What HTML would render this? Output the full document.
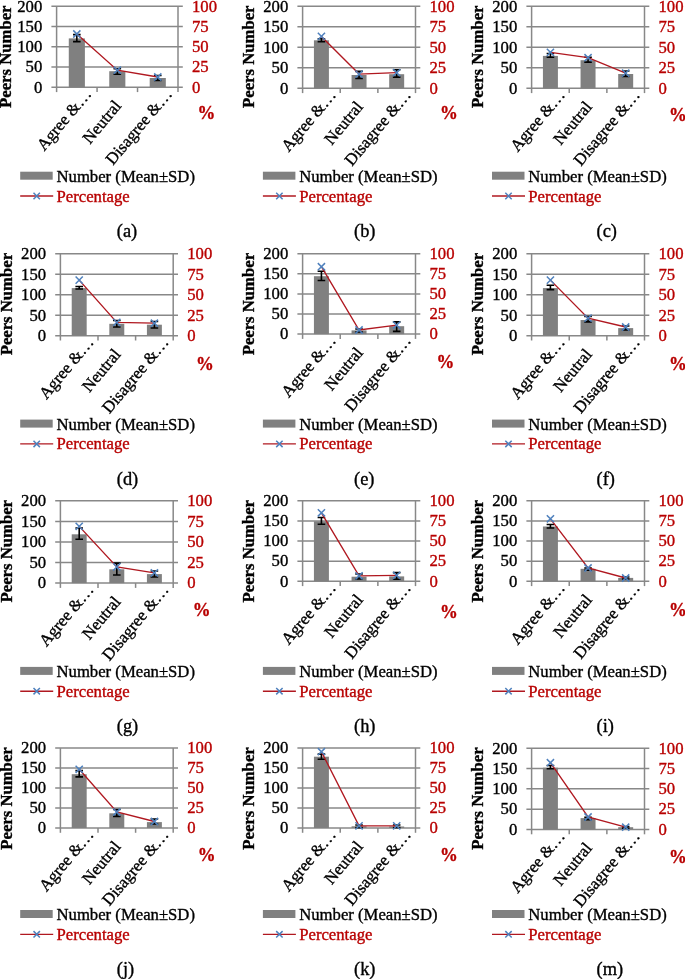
<!DOCTYPE html>
<html><head><meta charset="utf-8"><style>
html,body{margin:0;padding:0;background:#fff;}
svg{display:block;will-change:transform;}
text{font-family:"Liberation Serif",serif;font-size:16.7px;fill:#000;stroke:#000;stroke-width:0.35;}
text.r{fill:#B80000;stroke:#B80000;}
text.b{font-weight:bold;}
text.pc{font-size:17.8px;}
text.cap{font-size:18.4px;}
.gl{stroke:#888888;stroke-width:1.5;fill:none;}
.eb{stroke:#000;stroke-width:1.6;fill:none;}
.ln{stroke:#B01820;stroke-width:1.35;fill:none;}
.mk{stroke:#4F81BD;stroke-width:1.5;fill:none;}
</style></head><body>
<svg width="685" height="979" viewBox="0 0 685 979">
<rect width="685" height="979" fill="#fff"/>
<line x1="51.4" y1="6.3" x2="182.8" y2="6.3" class="gl"/>
<line x1="51.4" y1="26.55" x2="182.8" y2="26.55" class="gl"/>
<line x1="51.4" y1="46.8" x2="182.8" y2="46.8" class="gl"/>
<line x1="51.4" y1="67.05" x2="182.8" y2="67.05" class="gl"/>
<line x1="51.4" y1="87.3" x2="182.8" y2="87.3" class="gl"/>
<line x1="56.6" y1="6.3" x2="56.6" y2="92.1" class="gl"/>
<line x1="178" y1="6.3" x2="178" y2="92.1" class="gl"/>
<line x1="97.07" y1="87.3" x2="97.07" y2="92.1" class="gl"/>
<line x1="137.53" y1="87.3" x2="137.53" y2="92.1" class="gl"/>
<rect x="68.78" y="38.4" width="16.11" height="48.9" fill="#808080"/>
<rect x="109.25" y="71.2" width="16.11" height="16.1" fill="#808080"/>
<rect x="149.71" y="78" width="16.11" height="9.3" fill="#808080"/>
<path d="M73.03 34.6H80.63M76.83 34.6V41.6M73.03 41.6H80.63" class="eb"/>
<path d="M113.5 68.8H121.1M117.3 68.8V74.3M113.5 74.3H121.1" class="eb"/>
<path d="M153.97 75.5H161.57M157.77 75.5V80.5M153.97 80.5H161.57" class="eb"/>
<polyline points="76.83,34 117.3,70.2 157.77,77" class="ln"/>
<path d="M73.23 30.4L80.43 37.6M73.23 37.6L80.43 30.4" class="mk"/>
<path d="M113.7 66.6L120.9 73.8M113.7 73.8L120.9 66.6" class="mk"/>
<path d="M154.17 73.4L161.37 80.6M154.17 80.6L161.37 73.4" class="mk"/>
<text transform="translate(42.3,11.6) scale(1,1.05)" text-anchor="end">200</text>
<text transform="translate(42.3,31.85) scale(1,1.05)" text-anchor="end">150</text>
<text transform="translate(42.3,52.1) scale(1,1.05)" text-anchor="end">100</text>
<text transform="translate(42.3,72.35) scale(1,1.05)" text-anchor="end">50</text>
<text transform="translate(42.3,92.6) scale(1,1.05)" text-anchor="end">0</text>
<text transform="translate(192,11.6) scale(1,1.05)" class="r">100</text>
<text transform="translate(192,31.85) scale(1,1.05)" class="r">75</text>
<text transform="translate(192,52.1) scale(1,1.05)" class="r">50</text>
<text transform="translate(192,72.35) scale(1,1.05)" class="r">25</text>
<text transform="translate(192,92.6) scale(1,1.05)" class="r">0</text>
<text transform="translate(197.6,118.5) scale(1,1.05)" class="r b pc">%</text>
<text transform="translate(11.4,56.7) rotate(-90)" text-anchor="middle" class="b">Peers Number</text>
<text transform="translate(92.13,94.4) rotate(-50)" text-anchor="end">Agree &…</text>
<text transform="translate(122.1,106.3) rotate(-50)" text-anchor="end">Neutral</text>
<text transform="translate(172.87,94.4) rotate(-50)" text-anchor="end">Disagree &…</text>
<rect x="20.2" y="171.7" width="32.5" height="8" fill="#808080"/>
<text transform="translate(56.5,181.6) scale(1,1.05)">Number (Mean±SD)</text>
<line x1="20.2" y1="196" x2="53.2" y2="196" class="ln"/>
<path d="M33.5 192.8L39.9 199.2M33.5 199.2L39.9 192.8" class="mk"/>
<text transform="translate(56.5,201.5) scale(1,1.05)" class="r">Percentage</text>
<text transform="translate(116.8,237.2) scale(1,1.05)" class="cap">(a)</text>
<line x1="297.4" y1="6.3" x2="420.3" y2="6.3" class="gl"/>
<line x1="297.4" y1="26.8" x2="420.3" y2="26.8" class="gl"/>
<line x1="297.4" y1="47.3" x2="420.3" y2="47.3" class="gl"/>
<line x1="297.4" y1="67.8" x2="420.3" y2="67.8" class="gl"/>
<line x1="297.4" y1="88.3" x2="420.3" y2="88.3" class="gl"/>
<line x1="302.6" y1="6.3" x2="302.6" y2="93.1" class="gl"/>
<line x1="415.5" y1="6.3" x2="415.5" y2="93.1" class="gl"/>
<line x1="340.23" y1="88.3" x2="340.23" y2="93.1" class="gl"/>
<line x1="377.87" y1="88.3" x2="377.87" y2="93.1" class="gl"/>
<rect x="313.93" y="40.3" width="14.98" height="48" fill="#808080"/>
<rect x="351.56" y="75" width="14.98" height="13.3" fill="#808080"/>
<rect x="389.19" y="74.2" width="14.98" height="14.1" fill="#808080"/>
<path d="M317.62 38.7H325.22M321.42 38.7V41.6M317.62 41.6H325.22" class="eb"/>
<path d="M355.25 71.4H362.85M359.05 71.4V78.4M355.25 78.4H362.85" class="eb"/>
<path d="M392.88 69.8H400.48M396.68 69.8V77.1M392.88 77.1H400.48" class="eb"/>
<polyline points="321.42,36.4 359.05,74.1 396.68,72.7" class="ln"/>
<path d="M317.82 32.8L325.02 40M317.82 40L325.02 32.8" class="mk"/>
<path d="M355.45 70.5L362.65 77.7M355.45 77.7L362.65 70.5" class="mk"/>
<path d="M393.08 69.1L400.28 76.3M393.08 76.3L400.28 69.1" class="mk"/>
<text transform="translate(288.3,11.6) scale(1,1.05)" text-anchor="end">200</text>
<text transform="translate(288.3,32.1) scale(1,1.05)" text-anchor="end">150</text>
<text transform="translate(288.3,52.6) scale(1,1.05)" text-anchor="end">100</text>
<text transform="translate(288.3,73.1) scale(1,1.05)" text-anchor="end">50</text>
<text transform="translate(288.3,93.6) scale(1,1.05)" text-anchor="end">0</text>
<text transform="translate(429.5,11.6) scale(1,1.05)" class="r">100</text>
<text transform="translate(429.5,32.1) scale(1,1.05)" class="r">75</text>
<text transform="translate(429.5,52.6) scale(1,1.05)" class="r">50</text>
<text transform="translate(429.5,73.1) scale(1,1.05)" class="r">25</text>
<text transform="translate(429.5,93.6) scale(1,1.05)" class="r">0</text>
<text transform="translate(440.1,118.9) scale(1,1.05)" class="r b pc">%</text>
<text transform="translate(254.3,56.7) rotate(-90)" text-anchor="middle" class="b">Peers Number</text>
<text transform="translate(336.72,95.4) rotate(-50)" text-anchor="end">Agree &…</text>
<text transform="translate(363.85,107.3) rotate(-50)" text-anchor="end">Neutral</text>
<text transform="translate(411.78,95.4) rotate(-50)" text-anchor="end">Disagree &…</text>
<rect x="262.9" y="171.7" width="32.5" height="8" fill="#808080"/>
<text transform="translate(299.2,181.6) scale(1,1.05)">Number (Mean±SD)</text>
<line x1="262.9" y1="196" x2="295.9" y2="196" class="ln"/>
<path d="M276.2 192.8L282.6 199.2M276.2 199.2L282.6 192.8" class="mk"/>
<text transform="translate(299.2,201.5) scale(1,1.05)" class="r">Percentage</text>
<text transform="translate(354,237.2) scale(1,1.05)" class="cap">(b)</text>
<line x1="526.4" y1="6.3" x2="649.3" y2="6.3" class="gl"/>
<line x1="526.4" y1="26.8" x2="649.3" y2="26.8" class="gl"/>
<line x1="526.4" y1="47.3" x2="649.3" y2="47.3" class="gl"/>
<line x1="526.4" y1="67.8" x2="649.3" y2="67.8" class="gl"/>
<line x1="526.4" y1="88.3" x2="649.3" y2="88.3" class="gl"/>
<line x1="531.6" y1="6.3" x2="531.6" y2="93.1" class="gl"/>
<line x1="644.5" y1="6.3" x2="644.5" y2="93.1" class="gl"/>
<line x1="569.23" y1="88.3" x2="569.23" y2="93.1" class="gl"/>
<line x1="606.87" y1="88.3" x2="606.87" y2="93.1" class="gl"/>
<rect x="542.93" y="55.9" width="14.98" height="32.4" fill="#808080"/>
<rect x="580.56" y="60.2" width="14.98" height="28.1" fill="#808080"/>
<rect x="618.19" y="74" width="14.98" height="14.3" fill="#808080"/>
<path d="M546.62 53.5H554.22M550.42 53.5V57.3M546.62 57.3H554.22" class="eb"/>
<path d="M584.25 57.3H591.85M588.05 57.3V62.1M584.25 62.1H591.85" class="eb"/>
<path d="M621.88 71H629.48M625.68 71V76.5M621.88 76.5H629.48" class="eb"/>
<polyline points="550.42,52.4 588.05,57.7 625.68,73.1" class="ln"/>
<path d="M546.82 48.8L554.02 56M546.82 56L554.02 48.8" class="mk"/>
<path d="M584.45 54.1L591.65 61.3M584.45 61.3L591.65 54.1" class="mk"/>
<path d="M622.08 69.5L629.28 76.7M622.08 76.7L629.28 69.5" class="mk"/>
<text transform="translate(517.3,11.6) scale(1,1.05)" text-anchor="end">200</text>
<text transform="translate(517.3,32.1) scale(1,1.05)" text-anchor="end">150</text>
<text transform="translate(517.3,52.6) scale(1,1.05)" text-anchor="end">100</text>
<text transform="translate(517.3,73.1) scale(1,1.05)" text-anchor="end">50</text>
<text transform="translate(517.3,93.6) scale(1,1.05)" text-anchor="end">0</text>
<text transform="translate(658.5,11.6) scale(1,1.05)" class="r">100</text>
<text transform="translate(658.5,32.1) scale(1,1.05)" class="r">75</text>
<text transform="translate(658.5,52.6) scale(1,1.05)" class="r">50</text>
<text transform="translate(658.5,73.1) scale(1,1.05)" class="r">25</text>
<text transform="translate(658.5,93.6) scale(1,1.05)" class="r">0</text>
<text transform="translate(669.1,120.9) scale(1,1.05)" class="r b pc">%</text>
<text transform="translate(482.9,56.7) rotate(-90)" text-anchor="middle" class="b">Peers Number</text>
<text transform="translate(565.72,95.4) rotate(-50)" text-anchor="end">Agree &…</text>
<text transform="translate(592.85,107.3) rotate(-50)" text-anchor="end">Neutral</text>
<text transform="translate(640.78,95.4) rotate(-50)" text-anchor="end">Disagree &…</text>
<rect x="492" y="171.7" width="32.5" height="8" fill="#808080"/>
<text transform="translate(528.3,181.6) scale(1,1.05)">Number (Mean±SD)</text>
<line x1="492" y1="196" x2="525" y2="196" class="ln"/>
<path d="M505.3 192.8L511.7 199.2M505.3 199.2L511.7 192.8" class="mk"/>
<text transform="translate(528.3,201.5) scale(1,1.05)" class="r">Percentage</text>
<text transform="translate(596.5,237.2) scale(1,1.05)" class="cap">(c)</text>
<line x1="55.2" y1="253.7" x2="178" y2="253.7" class="gl"/>
<line x1="55.2" y1="274.2" x2="178" y2="274.2" class="gl"/>
<line x1="55.2" y1="294.7" x2="178" y2="294.7" class="gl"/>
<line x1="55.2" y1="315.2" x2="178" y2="315.2" class="gl"/>
<line x1="55.2" y1="335.7" x2="178" y2="335.7" class="gl"/>
<line x1="60.4" y1="253.7" x2="60.4" y2="340.5" class="gl"/>
<line x1="173.2" y1="253.7" x2="173.2" y2="340.5" class="gl"/>
<line x1="98" y1="335.7" x2="98" y2="340.5" class="gl"/>
<line x1="135.6" y1="335.7" x2="135.6" y2="340.5" class="gl"/>
<rect x="71.72" y="288.1" width="14.96" height="47.6" fill="#808080"/>
<rect x="109.32" y="323.8" width="14.96" height="11.9" fill="#808080"/>
<rect x="146.92" y="324.7" width="14.96" height="11" fill="#808080"/>
<path d="M75.4 286.5H83M79.2 286.5V289M75.4 289H83" class="eb"/>
<path d="M113 320.5H120.6M116.8 320.5V327M113 327H120.6" class="eb"/>
<path d="M150.6 321.5H158.2M154.4 321.5V328M150.6 328H158.2" class="eb"/>
<polyline points="79.2,280.1 116.8,322.4 154.4,323.2" class="ln"/>
<path d="M75.6 276.5L82.8 283.7M75.6 283.7L82.8 276.5" class="mk"/>
<path d="M113.2 318.8L120.4 326M113.2 326L120.4 318.8" class="mk"/>
<path d="M150.8 319.6L158 326.8M150.8 326.8L158 319.6" class="mk"/>
<text transform="translate(46.1,259) scale(1,1.05)" text-anchor="end">200</text>
<text transform="translate(46.1,279.5) scale(1,1.05)" text-anchor="end">150</text>
<text transform="translate(46.1,300) scale(1,1.05)" text-anchor="end">100</text>
<text transform="translate(46.1,320.5) scale(1,1.05)" text-anchor="end">50</text>
<text transform="translate(46.1,341) scale(1,1.05)" text-anchor="end">0</text>
<text transform="translate(187.2,259) scale(1,1.05)" class="r">100</text>
<text transform="translate(187.2,279.5) scale(1,1.05)" class="r">75</text>
<text transform="translate(187.2,300) scale(1,1.05)" class="r">50</text>
<text transform="translate(187.2,320.5) scale(1,1.05)" class="r">25</text>
<text transform="translate(187.2,341) scale(1,1.05)" class="r">0</text>
<text transform="translate(196.1,369.9) scale(1,1.05)" class="r b pc">%</text>
<text transform="translate(12.2,304.1) rotate(-90)" text-anchor="middle" class="b">Peers Number</text>
<text transform="translate(94.5,342.8) rotate(-50)" text-anchor="end">Agree &…</text>
<text transform="translate(121.6,354.7) rotate(-50)" text-anchor="end">Neutral</text>
<text transform="translate(169.5,342.8) rotate(-50)" text-anchor="end">Disagree &…</text>
<rect x="20.2" y="419.6" width="32.5" height="8" fill="#808080"/>
<text transform="translate(56.5,429.5) scale(1,1.05)">Number (Mean±SD)</text>
<line x1="20.2" y1="443.9" x2="53.2" y2="443.9" class="ln"/>
<path d="M33.5 440.7L39.9 447.1M33.5 447.1L39.9 440.7" class="mk"/>
<text transform="translate(56.5,449.4) scale(1,1.05)" class="r">Percentage</text>
<text transform="translate(116.8,484.6) scale(1,1.05)" class="cap">(d)</text>
<line x1="297.4" y1="253.7" x2="420.3" y2="253.7" class="gl"/>
<line x1="297.4" y1="273.8" x2="420.3" y2="273.8" class="gl"/>
<line x1="297.4" y1="293.9" x2="420.3" y2="293.9" class="gl"/>
<line x1="297.4" y1="314" x2="420.3" y2="314" class="gl"/>
<line x1="297.4" y1="334.1" x2="420.3" y2="334.1" class="gl"/>
<line x1="302.6" y1="253.7" x2="302.6" y2="338.9" class="gl"/>
<line x1="415.5" y1="253.7" x2="415.5" y2="338.9" class="gl"/>
<line x1="340.23" y1="334.1" x2="340.23" y2="338.9" class="gl"/>
<line x1="377.87" y1="334.1" x2="377.87" y2="338.9" class="gl"/>
<rect x="313.93" y="276.2" width="14.98" height="57.9" fill="#808080"/>
<rect x="351.56" y="330.4" width="14.98" height="3.7" fill="#808080"/>
<rect x="389.19" y="326.2" width="14.98" height="7.9" fill="#808080"/>
<path d="M317.62 271.2H325.22M321.42 271.2V280.5M317.62 280.5H325.22" class="eb"/>
<path d="M355.25 329H362.85M359.05 329V332M355.25 332H362.85" class="eb"/>
<path d="M392.88 321.9H400.48M396.68 321.9V331.4M392.88 331.4H400.48" class="eb"/>
<polyline points="321.42,266.7 359.05,330 396.68,325.1" class="ln"/>
<path d="M317.82 263.1L325.02 270.3M317.82 270.3L325.02 263.1" class="mk"/>
<path d="M355.45 326.4L362.65 333.6M355.45 333.6L362.65 326.4" class="mk"/>
<path d="M393.08 321.5L400.28 328.7M393.08 328.7L400.28 321.5" class="mk"/>
<text transform="translate(288.3,259) scale(1,1.05)" text-anchor="end">200</text>
<text transform="translate(288.3,279.1) scale(1,1.05)" text-anchor="end">150</text>
<text transform="translate(288.3,299.2) scale(1,1.05)" text-anchor="end">100</text>
<text transform="translate(288.3,319.3) scale(1,1.05)" text-anchor="end">50</text>
<text transform="translate(288.3,339.4) scale(1,1.05)" text-anchor="end">0</text>
<text transform="translate(429.5,259) scale(1,1.05)" class="r">100</text>
<text transform="translate(429.5,279.1) scale(1,1.05)" class="r">75</text>
<text transform="translate(429.5,299.2) scale(1,1.05)" class="r">50</text>
<text transform="translate(429.5,319.3) scale(1,1.05)" class="r">25</text>
<text transform="translate(429.5,339.4) scale(1,1.05)" class="r">0</text>
<text transform="translate(436.4,367.8) scale(1,1.05)" class="r b pc">%</text>
<text transform="translate(254.3,304.1) rotate(-90)" text-anchor="middle" class="b">Peers Number</text>
<text transform="translate(336.72,341.2) rotate(-50)" text-anchor="end">Agree &…</text>
<text transform="translate(363.85,353.1) rotate(-50)" text-anchor="end">Neutral</text>
<text transform="translate(411.78,341.2) rotate(-50)" text-anchor="end">Disagree &…</text>
<rect x="262.9" y="419.6" width="32.5" height="8" fill="#808080"/>
<text transform="translate(299.2,429.5) scale(1,1.05)">Number (Mean±SD)</text>
<line x1="262.9" y1="443.9" x2="295.9" y2="443.9" class="ln"/>
<path d="M276.2 440.7L282.6 447.1M276.2 447.1L282.6 440.7" class="mk"/>
<text transform="translate(299.2,449.4) scale(1,1.05)" class="r">Percentage</text>
<text transform="translate(354,484.6) scale(1,1.05)" class="cap">(e)</text>
<line x1="526.4" y1="253.7" x2="649.3" y2="253.7" class="gl"/>
<line x1="526.4" y1="274.2" x2="649.3" y2="274.2" class="gl"/>
<line x1="526.4" y1="294.7" x2="649.3" y2="294.7" class="gl"/>
<line x1="526.4" y1="315.2" x2="649.3" y2="315.2" class="gl"/>
<line x1="526.4" y1="335.7" x2="649.3" y2="335.7" class="gl"/>
<line x1="531.6" y1="253.7" x2="531.6" y2="340.5" class="gl"/>
<line x1="644.5" y1="253.7" x2="644.5" y2="340.5" class="gl"/>
<line x1="569.23" y1="335.7" x2="569.23" y2="340.5" class="gl"/>
<line x1="606.87" y1="335.7" x2="606.87" y2="340.5" class="gl"/>
<rect x="542.93" y="288.1" width="14.98" height="47.6" fill="#808080"/>
<rect x="580.56" y="320" width="14.98" height="15.7" fill="#808080"/>
<rect x="618.19" y="328.1" width="14.98" height="7.6" fill="#808080"/>
<path d="M546.62 285.2H554.22M550.42 285.2V289.6M546.62 289.6H554.22" class="eb"/>
<path d="M584.25 316.5H591.85M588.05 316.5V321.9M584.25 321.9H591.85" class="eb"/>
<path d="M621.88 326H629.48M625.68 326V330M621.88 330H629.48" class="eb"/>
<polyline points="550.42,280.1 588.05,318.1 625.68,327" class="ln"/>
<path d="M546.82 276.5L554.02 283.7M546.82 283.7L554.02 276.5" class="mk"/>
<path d="M584.45 314.5L591.65 321.7M584.45 321.7L591.65 314.5" class="mk"/>
<path d="M622.08 323.4L629.28 330.6M622.08 330.6L629.28 323.4" class="mk"/>
<text transform="translate(517.3,259) scale(1,1.05)" text-anchor="end">200</text>
<text transform="translate(517.3,279.5) scale(1,1.05)" text-anchor="end">150</text>
<text transform="translate(517.3,300) scale(1,1.05)" text-anchor="end">100</text>
<text transform="translate(517.3,320.5) scale(1,1.05)" text-anchor="end">50</text>
<text transform="translate(517.3,341) scale(1,1.05)" text-anchor="end">0</text>
<text transform="translate(658.5,259) scale(1,1.05)" class="r">100</text>
<text transform="translate(658.5,279.5) scale(1,1.05)" class="r">75</text>
<text transform="translate(658.5,300) scale(1,1.05)" class="r">50</text>
<text transform="translate(658.5,320.5) scale(1,1.05)" class="r">25</text>
<text transform="translate(658.5,341) scale(1,1.05)" class="r">0</text>
<text transform="translate(669.1,369.9) scale(1,1.05)" class="r b pc">%</text>
<text transform="translate(482.9,304.1) rotate(-90)" text-anchor="middle" class="b">Peers Number</text>
<text transform="translate(565.72,342.8) rotate(-50)" text-anchor="end">Agree &…</text>
<text transform="translate(592.85,354.7) rotate(-50)" text-anchor="end">Neutral</text>
<text transform="translate(640.78,342.8) rotate(-50)" text-anchor="end">Disagree &…</text>
<rect x="492" y="419.6" width="32.5" height="8" fill="#808080"/>
<text transform="translate(528.3,429.5) scale(1,1.05)">Number (Mean±SD)</text>
<line x1="492" y1="443.9" x2="525" y2="443.9" class="ln"/>
<path d="M505.3 440.7L511.7 447.1M505.3 447.1L511.7 440.7" class="mk"/>
<text transform="translate(528.3,449.4) scale(1,1.05)" class="r">Percentage</text>
<text transform="translate(596.5,484.6) scale(1,1.05)" class="cap">(f)</text>
<line x1="55.2" y1="500.8" x2="178" y2="500.8" class="gl"/>
<line x1="55.2" y1="521.38" x2="178" y2="521.38" class="gl"/>
<line x1="55.2" y1="541.95" x2="178" y2="541.95" class="gl"/>
<line x1="55.2" y1="562.52" x2="178" y2="562.52" class="gl"/>
<line x1="55.2" y1="583.1" x2="178" y2="583.1" class="gl"/>
<line x1="60.4" y1="500.8" x2="60.4" y2="587.9" class="gl"/>
<line x1="173.2" y1="500.8" x2="173.2" y2="587.9" class="gl"/>
<line x1="98" y1="583.1" x2="98" y2="587.9" class="gl"/>
<line x1="135.6" y1="583.1" x2="135.6" y2="587.9" class="gl"/>
<rect x="71.72" y="534.3" width="14.96" height="48.8" fill="#808080"/>
<rect x="109.32" y="569.3" width="14.96" height="13.8" fill="#808080"/>
<rect x="146.92" y="574.1" width="14.96" height="9" fill="#808080"/>
<path d="M75.4 528H83M79.2 528V539.3M75.4 539.3H83" class="eb"/>
<path d="M113 563.1H120.6M116.8 563.1V575M113 575H120.6" class="eb"/>
<path d="M150.6 571H158.2M154.4 571V577M150.6 577H158.2" class="eb"/>
<polyline points="79.2,526.4 116.8,566.9 154.4,572.9" class="ln"/>
<path d="M75.6 522.8L82.8 530M75.6 530L82.8 522.8" class="mk"/>
<path d="M113.2 563.3L120.4 570.5M113.2 570.5L120.4 563.3" class="mk"/>
<path d="M150.8 569.3L158 576.5M150.8 576.5L158 569.3" class="mk"/>
<text transform="translate(46.1,506.1) scale(1,1.05)" text-anchor="end">200</text>
<text transform="translate(46.1,526.67) scale(1,1.05)" text-anchor="end">150</text>
<text transform="translate(46.1,547.25) scale(1,1.05)" text-anchor="end">100</text>
<text transform="translate(46.1,567.82) scale(1,1.05)" text-anchor="end">50</text>
<text transform="translate(46.1,588.4) scale(1,1.05)" text-anchor="end">0</text>
<text transform="translate(187.2,506.1) scale(1,1.05)" class="r">100</text>
<text transform="translate(187.2,526.67) scale(1,1.05)" class="r">75</text>
<text transform="translate(187.2,547.25) scale(1,1.05)" class="r">50</text>
<text transform="translate(187.2,567.82) scale(1,1.05)" class="r">25</text>
<text transform="translate(187.2,588.4) scale(1,1.05)" class="r">0</text>
<text transform="translate(192.8,616) scale(1,1.05)" class="r b pc">%</text>
<text transform="translate(12.2,551.2) rotate(-90)" text-anchor="middle" class="b">Peers Number</text>
<text transform="translate(94.5,590.2) rotate(-50)" text-anchor="end">Agree &…</text>
<text transform="translate(121.6,602.1) rotate(-50)" text-anchor="end">Neutral</text>
<text transform="translate(169.5,590.2) rotate(-50)" text-anchor="end">Disagree &…</text>
<rect x="20.2" y="666.9" width="32.5" height="8" fill="#808080"/>
<text transform="translate(56.5,676.8) scale(1,1.05)">Number (Mean±SD)</text>
<line x1="20.2" y1="691.2" x2="53.2" y2="691.2" class="ln"/>
<path d="M33.5 688L39.9 694.4M33.5 694.4L39.9 688" class="mk"/>
<text transform="translate(56.5,696.7) scale(1,1.05)" class="r">Percentage</text>
<text transform="translate(116.8,731.9) scale(1,1.05)" class="cap">(g)</text>
<line x1="297.4" y1="500.8" x2="420.3" y2="500.8" class="gl"/>
<line x1="297.4" y1="520.92" x2="420.3" y2="520.92" class="gl"/>
<line x1="297.4" y1="541.05" x2="420.3" y2="541.05" class="gl"/>
<line x1="297.4" y1="561.17" x2="420.3" y2="561.17" class="gl"/>
<line x1="297.4" y1="581.3" x2="420.3" y2="581.3" class="gl"/>
<line x1="302.6" y1="500.8" x2="302.6" y2="586.1" class="gl"/>
<line x1="415.5" y1="500.8" x2="415.5" y2="586.1" class="gl"/>
<line x1="340.23" y1="581.3" x2="340.23" y2="586.1" class="gl"/>
<line x1="377.87" y1="581.3" x2="377.87" y2="586.1" class="gl"/>
<rect x="313.93" y="521.3" width="14.98" height="60" fill="#808080"/>
<rect x="351.56" y="576.7" width="14.98" height="4.6" fill="#808080"/>
<rect x="389.19" y="576.4" width="14.98" height="4.9" fill="#808080"/>
<path d="M317.62 517.5H325.22M321.42 517.5V524.2M317.62 524.2H325.22" class="eb"/>
<path d="M355.25 574H362.85M359.05 574V579M355.25 579H362.85" class="eb"/>
<path d="M392.88 572.6H400.48M396.68 572.6V579.2M392.88 579.2H400.48" class="eb"/>
<polyline points="321.42,512.8 359.05,575.8 396.68,575.4" class="ln"/>
<path d="M317.82 509.2L325.02 516.4M317.82 516.4L325.02 509.2" class="mk"/>
<path d="M355.45 572.2L362.65 579.4M355.45 579.4L362.65 572.2" class="mk"/>
<path d="M393.08 571.8L400.28 579M393.08 579L400.28 571.8" class="mk"/>
<text transform="translate(288.3,506.1) scale(1,1.05)" text-anchor="end">200</text>
<text transform="translate(288.3,526.22) scale(1,1.05)" text-anchor="end">150</text>
<text transform="translate(288.3,546.35) scale(1,1.05)" text-anchor="end">100</text>
<text transform="translate(288.3,566.47) scale(1,1.05)" text-anchor="end">50</text>
<text transform="translate(288.3,586.6) scale(1,1.05)" text-anchor="end">0</text>
<text transform="translate(429.5,506.1) scale(1,1.05)" class="r">100</text>
<text transform="translate(429.5,526.22) scale(1,1.05)" class="r">75</text>
<text transform="translate(429.5,546.35) scale(1,1.05)" class="r">50</text>
<text transform="translate(429.5,566.47) scale(1,1.05)" class="r">25</text>
<text transform="translate(429.5,586.6) scale(1,1.05)" class="r">0</text>
<text transform="translate(440.1,617.6) scale(1,1.05)" class="r b pc">%</text>
<text transform="translate(254.3,551.2) rotate(-90)" text-anchor="middle" class="b">Peers Number</text>
<text transform="translate(336.72,588.4) rotate(-50)" text-anchor="end">Agree &…</text>
<text transform="translate(363.85,600.3) rotate(-50)" text-anchor="end">Neutral</text>
<text transform="translate(411.78,588.4) rotate(-50)" text-anchor="end">Disagree &…</text>
<rect x="262.9" y="666.9" width="32.5" height="8" fill="#808080"/>
<text transform="translate(299.2,676.8) scale(1,1.05)">Number (Mean±SD)</text>
<line x1="262.9" y1="691.2" x2="295.9" y2="691.2" class="ln"/>
<path d="M276.2 688L282.6 694.4M276.2 694.4L282.6 688" class="mk"/>
<text transform="translate(299.2,696.7) scale(1,1.05)" class="r">Percentage</text>
<text transform="translate(354,731.9) scale(1,1.05)" class="cap">(h)</text>
<line x1="526.4" y1="500.8" x2="649.3" y2="500.8" class="gl"/>
<line x1="526.4" y1="520.92" x2="649.3" y2="520.92" class="gl"/>
<line x1="526.4" y1="541.05" x2="649.3" y2="541.05" class="gl"/>
<line x1="526.4" y1="561.17" x2="649.3" y2="561.17" class="gl"/>
<line x1="526.4" y1="581.3" x2="649.3" y2="581.3" class="gl"/>
<line x1="531.6" y1="500.8" x2="531.6" y2="586.1" class="gl"/>
<line x1="644.5" y1="500.8" x2="644.5" y2="586.1" class="gl"/>
<line x1="569.23" y1="581.3" x2="569.23" y2="586.1" class="gl"/>
<line x1="606.87" y1="581.3" x2="606.87" y2="586.1" class="gl"/>
<rect x="542.93" y="526.5" width="14.98" height="54.8" fill="#808080"/>
<rect x="580.56" y="568.8" width="14.98" height="12.5" fill="#808080"/>
<rect x="618.19" y="577.9" width="14.98" height="3.4" fill="#808080"/>
<path d="M546.62 524.5H554.22M550.42 524.5V528M546.62 528H554.22" class="eb"/>
<path d="M584.25 568H591.85M588.05 568V570.3M584.25 570.3H591.85" class="eb"/>
<path d="M621.88 577H629.48M625.68 577V579M621.88 579H629.48" class="eb"/>
<polyline points="550.42,518.8 588.05,568 625.68,578" class="ln"/>
<path d="M546.82 515.2L554.02 522.4M546.82 522.4L554.02 515.2" class="mk"/>
<path d="M584.45 564.4L591.65 571.6M584.45 571.6L591.65 564.4" class="mk"/>
<path d="M622.08 574.4L629.28 581.6M622.08 581.6L629.28 574.4" class="mk"/>
<text transform="translate(517.3,506.1) scale(1,1.05)" text-anchor="end">200</text>
<text transform="translate(517.3,526.22) scale(1,1.05)" text-anchor="end">150</text>
<text transform="translate(517.3,546.35) scale(1,1.05)" text-anchor="end">100</text>
<text transform="translate(517.3,566.47) scale(1,1.05)" text-anchor="end">50</text>
<text transform="translate(517.3,586.6) scale(1,1.05)" text-anchor="end">0</text>
<text transform="translate(658.5,506.1) scale(1,1.05)" class="r">100</text>
<text transform="translate(658.5,526.22) scale(1,1.05)" class="r">75</text>
<text transform="translate(658.5,546.35) scale(1,1.05)" class="r">50</text>
<text transform="translate(658.5,566.47) scale(1,1.05)" class="r">25</text>
<text transform="translate(658.5,586.6) scale(1,1.05)" class="r">0</text>
<text transform="translate(669.1,616) scale(1,1.05)" class="r b pc">%</text>
<text transform="translate(482.9,551.2) rotate(-90)" text-anchor="middle" class="b">Peers Number</text>
<text transform="translate(565.72,588.4) rotate(-50)" text-anchor="end">Agree &…</text>
<text transform="translate(592.85,600.3) rotate(-50)" text-anchor="end">Neutral</text>
<text transform="translate(640.78,588.4) rotate(-50)" text-anchor="end">Disagree &…</text>
<rect x="492" y="666.9" width="32.5" height="8" fill="#808080"/>
<text transform="translate(528.3,676.8) scale(1,1.05)">Number (Mean±SD)</text>
<line x1="492" y1="691.2" x2="525" y2="691.2" class="ln"/>
<path d="M505.3 688L511.7 694.4M505.3 694.4L511.7 688" class="mk"/>
<text transform="translate(528.3,696.7) scale(1,1.05)" class="r">Percentage</text>
<text transform="translate(596.5,731.9) scale(1,1.05)" class="cap">(i)</text>
<line x1="55.2" y1="748.1" x2="178" y2="748.1" class="gl"/>
<line x1="55.2" y1="768.08" x2="178" y2="768.08" class="gl"/>
<line x1="55.2" y1="788.05" x2="178" y2="788.05" class="gl"/>
<line x1="55.2" y1="808.02" x2="178" y2="808.02" class="gl"/>
<line x1="55.2" y1="828" x2="178" y2="828" class="gl"/>
<line x1="60.4" y1="748.1" x2="60.4" y2="832.8" class="gl"/>
<line x1="173.2" y1="748.1" x2="173.2" y2="832.8" class="gl"/>
<line x1="98" y1="828" x2="98" y2="832.8" class="gl"/>
<line x1="135.6" y1="828" x2="135.6" y2="832.8" class="gl"/>
<rect x="71.72" y="774.2" width="14.96" height="53.8" fill="#808080"/>
<rect x="109.32" y="813.3" width="14.96" height="14.7" fill="#808080"/>
<rect x="146.92" y="822.1" width="14.96" height="5.9" fill="#808080"/>
<path d="M75.4 770.6H83M79.2 770.6V776.9M75.4 776.9H83" class="eb"/>
<path d="M113 809.5H120.6M116.8 809.5V816.4M113 816.4H120.6" class="eb"/>
<path d="M150.6 819H158.2M154.4 819V824M150.6 824H158.2" class="eb"/>
<polyline points="79.2,769.3 116.8,812 154.4,821.5" class="ln"/>
<path d="M75.6 765.7L82.8 772.9M75.6 772.9L82.8 765.7" class="mk"/>
<path d="M113.2 808.4L120.4 815.6M113.2 815.6L120.4 808.4" class="mk"/>
<path d="M150.8 817.9L158 825.1M150.8 825.1L158 817.9" class="mk"/>
<text transform="translate(46.1,753.4) scale(1,1.05)" text-anchor="end">200</text>
<text transform="translate(46.1,773.38) scale(1,1.05)" text-anchor="end">150</text>
<text transform="translate(46.1,793.35) scale(1,1.05)" text-anchor="end">100</text>
<text transform="translate(46.1,813.32) scale(1,1.05)" text-anchor="end">50</text>
<text transform="translate(46.1,833.3) scale(1,1.05)" text-anchor="end">0</text>
<text transform="translate(187.2,753.4) scale(1,1.05)" class="r">100</text>
<text transform="translate(187.2,773.38) scale(1,1.05)" class="r">75</text>
<text transform="translate(187.2,793.35) scale(1,1.05)" class="r">50</text>
<text transform="translate(187.2,813.32) scale(1,1.05)" class="r">25</text>
<text transform="translate(187.2,833.3) scale(1,1.05)" class="r">0</text>
<text transform="translate(197.8,860.9) scale(1,1.05)" class="r b pc">%</text>
<text transform="translate(12.2,798.5) rotate(-90)" text-anchor="middle" class="b">Peers Number</text>
<text transform="translate(94.5,835.1) rotate(-50)" text-anchor="end">Agree &…</text>
<text transform="translate(121.6,847) rotate(-50)" text-anchor="end">Neutral</text>
<text transform="translate(169.5,835.1) rotate(-50)" text-anchor="end">Disagree &…</text>
<rect x="20.2" y="910" width="32.5" height="8" fill="#808080"/>
<text transform="translate(56.5,919.9) scale(1,1.05)">Number (Mean±SD)</text>
<line x1="20.2" y1="934.3" x2="53.2" y2="934.3" class="ln"/>
<path d="M33.5 931.1L39.9 937.5M33.5 937.5L39.9 931.1" class="mk"/>
<text transform="translate(56.5,939.8) scale(1,1.05)" class="r">Percentage</text>
<text transform="translate(116.8,974.7) scale(1,1.05)" class="cap">(j)</text>
<line x1="297.4" y1="748.1" x2="420.3" y2="748.1" class="gl"/>
<line x1="297.4" y1="768.08" x2="420.3" y2="768.08" class="gl"/>
<line x1="297.4" y1="788.05" x2="420.3" y2="788.05" class="gl"/>
<line x1="297.4" y1="808.02" x2="420.3" y2="808.02" class="gl"/>
<line x1="297.4" y1="828" x2="420.3" y2="828" class="gl"/>
<line x1="302.6" y1="748.1" x2="302.6" y2="832.8" class="gl"/>
<line x1="415.5" y1="748.1" x2="415.5" y2="832.8" class="gl"/>
<line x1="340.23" y1="828" x2="340.23" y2="832.8" class="gl"/>
<line x1="377.87" y1="828" x2="377.87" y2="832.8" class="gl"/>
<rect x="313.93" y="756.7" width="14.98" height="71.3" fill="#808080"/>
<rect x="351.56" y="826.3" width="14.98" height="1.7" fill="#808080"/>
<rect x="389.19" y="826.5" width="14.98" height="1.5" fill="#808080"/>
<path d="M317.62 754.1H325.22M321.42 754.1V759.3M317.62 759.3H325.22" class="eb"/>
<path d="M355.25 825H362.85M359.05 825V827.6M355.25 827.6H362.85" class="eb"/>
<path d="M392.88 825H400.48M396.68 825V827.6M392.88 827.6H400.48" class="eb"/>
<polyline points="321.42,751.7 359.05,825.9 396.68,825.9" class="ln"/>
<path d="M317.82 748.1L325.02 755.3M317.82 755.3L325.02 748.1" class="mk"/>
<path d="M355.45 822.3L362.65 829.5M355.45 829.5L362.65 822.3" class="mk"/>
<path d="M393.08 822.3L400.28 829.5M393.08 829.5L400.28 822.3" class="mk"/>
<text transform="translate(288.3,753.4) scale(1,1.05)" text-anchor="end">200</text>
<text transform="translate(288.3,773.38) scale(1,1.05)" text-anchor="end">150</text>
<text transform="translate(288.3,793.35) scale(1,1.05)" text-anchor="end">100</text>
<text transform="translate(288.3,813.32) scale(1,1.05)" text-anchor="end">50</text>
<text transform="translate(288.3,833.3) scale(1,1.05)" text-anchor="end">0</text>
<text transform="translate(429.5,753.4) scale(1,1.05)" class="r">100</text>
<text transform="translate(429.5,773.38) scale(1,1.05)" class="r">75</text>
<text transform="translate(429.5,793.35) scale(1,1.05)" class="r">50</text>
<text transform="translate(429.5,813.32) scale(1,1.05)" class="r">25</text>
<text transform="translate(429.5,833.3) scale(1,1.05)" class="r">0</text>
<text transform="translate(440.1,860.9) scale(1,1.05)" class="r b pc">%</text>
<text transform="translate(254.3,798.5) rotate(-90)" text-anchor="middle" class="b">Peers Number</text>
<text transform="translate(336.72,835.1) rotate(-50)" text-anchor="end">Agree &…</text>
<text transform="translate(363.85,847) rotate(-50)" text-anchor="end">Neutral</text>
<text transform="translate(411.78,835.1) rotate(-50)" text-anchor="end">Disagree &…</text>
<rect x="262.9" y="910" width="32.5" height="8" fill="#808080"/>
<text transform="translate(299.2,919.9) scale(1,1.05)">Number (Mean±SD)</text>
<line x1="262.9" y1="934.3" x2="295.9" y2="934.3" class="ln"/>
<path d="M276.2 931.1L282.6 937.5M276.2 937.5L282.6 931.1" class="mk"/>
<text transform="translate(299.2,939.8) scale(1,1.05)" class="r">Percentage</text>
<text transform="translate(354,974.7) scale(1,1.05)" class="cap">(k)</text>
<line x1="526.4" y1="748.2" x2="649.3" y2="748.2" class="gl"/>
<line x1="526.4" y1="768.53" x2="649.3" y2="768.53" class="gl"/>
<line x1="526.4" y1="788.85" x2="649.3" y2="788.85" class="gl"/>
<line x1="526.4" y1="809.17" x2="649.3" y2="809.17" class="gl"/>
<line x1="526.4" y1="829.5" x2="649.3" y2="829.5" class="gl"/>
<line x1="531.6" y1="748.2" x2="531.6" y2="834.3" class="gl"/>
<line x1="644.5" y1="748.2" x2="644.5" y2="834.3" class="gl"/>
<line x1="569.23" y1="829.5" x2="569.23" y2="834.3" class="gl"/>
<line x1="606.87" y1="829.5" x2="606.87" y2="834.3" class="gl"/>
<rect x="542.93" y="767.7" width="14.98" height="61.8" fill="#808080"/>
<rect x="580.56" y="818.1" width="14.98" height="11.4" fill="#808080"/>
<rect x="618.19" y="827.2" width="14.98" height="2.3" fill="#808080"/>
<path d="M546.62 765.5H554.22M550.42 765.5V768.7M546.62 768.7H554.22" class="eb"/>
<path d="M584.25 817.2H591.85M588.05 817.2V819.6M584.25 819.6H591.85" class="eb"/>
<path d="M621.88 826.5H629.48M625.68 826.5V828.3M621.88 828.3H629.48" class="eb"/>
<polyline points="550.42,762.7 588.05,817 625.68,827.2" class="ln"/>
<path d="M546.82 759.1L554.02 766.3M546.82 766.3L554.02 759.1" class="mk"/>
<path d="M584.45 813.4L591.65 820.6M584.45 820.6L591.65 813.4" class="mk"/>
<path d="M622.08 823.6L629.28 830.8M622.08 830.8L629.28 823.6" class="mk"/>
<text transform="translate(517.3,753.5) scale(1,1.05)" text-anchor="end">200</text>
<text transform="translate(517.3,773.83) scale(1,1.05)" text-anchor="end">150</text>
<text transform="translate(517.3,794.15) scale(1,1.05)" text-anchor="end">100</text>
<text transform="translate(517.3,814.47) scale(1,1.05)" text-anchor="end">50</text>
<text transform="translate(517.3,834.8) scale(1,1.05)" text-anchor="end">0</text>
<text transform="translate(658.5,753.5) scale(1,1.05)" class="r">100</text>
<text transform="translate(658.5,773.83) scale(1,1.05)" class="r">75</text>
<text transform="translate(658.5,794.15) scale(1,1.05)" class="r">50</text>
<text transform="translate(658.5,814.47) scale(1,1.05)" class="r">25</text>
<text transform="translate(658.5,834.8) scale(1,1.05)" class="r">0</text>
<text transform="translate(669.1,862.7) scale(1,1.05)" class="r b pc">%</text>
<text transform="translate(482.9,798.6) rotate(-90)" text-anchor="middle" class="b">Peers Number</text>
<text transform="translate(565.72,836.6) rotate(-50)" text-anchor="end">Agree &…</text>
<text transform="translate(592.85,848.5) rotate(-50)" text-anchor="end">Neutral</text>
<text transform="translate(640.78,836.6) rotate(-50)" text-anchor="end">Disagree &…</text>
<rect x="492" y="910" width="32.5" height="8" fill="#808080"/>
<text transform="translate(528.3,919.9) scale(1,1.05)">Number (Mean±SD)</text>
<line x1="492" y1="934.3" x2="525" y2="934.3" class="ln"/>
<path d="M505.3 931.1L511.7 937.5M505.3 937.5L511.7 931.1" class="mk"/>
<text transform="translate(528.3,939.8) scale(1,1.05)" class="r">Percentage</text>
<text transform="translate(596.5,974.7) scale(1,1.05)" class="cap">(m)</text>
</svg>
</body></html>
